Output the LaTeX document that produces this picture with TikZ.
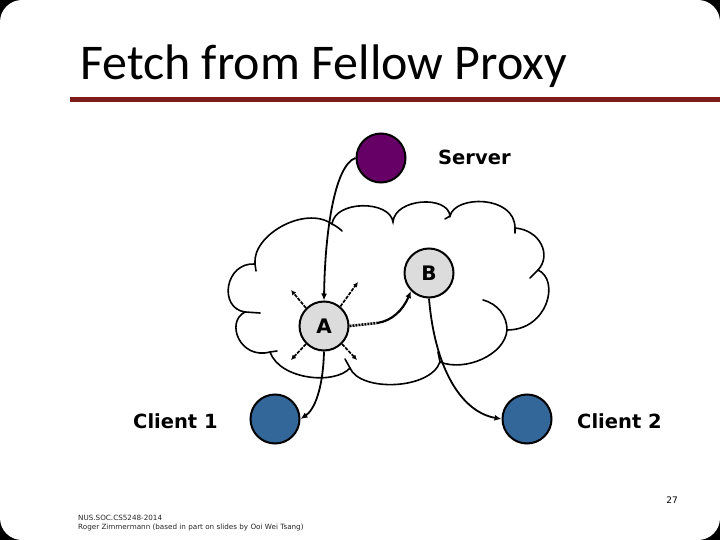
\documentclass[tikz,border=0pt]{standalone}
\usepackage{fontspec}
\setmainfont{DejaVu Sans}
\newfontfamily\titlefont{Carlito}
\usetikzlibrary{arrows.meta}
\definecolor{srvpurple}{HTML}{660066}
\definecolor{cliblue}{HTML}{336699}
\definecolor{nodegray}{HTML}{DCDCDC}
\definecolor{barred}{HTML}{7E1C1C}
\tikzset{
  peer/.style={circle, draw=black, line width=2pt, minimum size=49pt, inner sep=0pt, font=\bfseries\fontsize{20}{22}\selectfont},
  lbl/.style={font=\bfseries\fontsize{19.5}{22}\selectfont, inner sep=0pt},
  conn/.style={line width=1.8pt, -{Latex[length=7pt,width=6pt]}},
  ray/.style={line width=1.7pt, dash pattern=on 3.5pt off 1.2pt, -{Latex[length=5pt,width=5pt]}},
  cloudline/.style={line width=1.6pt, line cap=round},
  foot/.style={font=\fontsize{7.2}{8}\selectfont, text=black!85, inner sep=0pt, anchor=base west}
}
\begin{document}
\begin{tikzpicture}[x=1pt,y=-1pt]
\useasboundingbox (0,0) rectangle (720,540);
\fill[black] (0,0) rectangle (720,540);
\fill[white, rounded corners=22pt] (0,0) rectangle (720,540);
% title
\node[anchor=base west, inner sep=0pt, font=\titlefont\fontsize{50}{54}\selectfont] (title) at (80,80) {Fetch from Fellow Proxy};
\fill[barred] (70,97) rectangle (720,102);
% cloud
\draw[cloudline]
  (255,264) .. controls (252,235) and (305,205) .. (332,224)
  .. controls (335,200) and (390,200) .. (393,222)
  .. controls (395,198) and (448,195) .. (450,216)
  .. controls (455,195) and (515,195) .. (515,228)
  .. controls (540,230) and (552,255) .. (538,270)
  .. controls (560,280) and (548,330) .. (507,330)
  .. controls (505,355) and (465,372) .. (440,362)
  .. controls (430,390) and (360,392) .. (350,368)
  .. controls (335,385) and (280,380) .. (270,352)
  .. controls (240,360) and (225,322) .. (245,312)
  .. controls (218,308) and (225,262) .. (255,264);
% cloud inner stubs
\draw[cloudline] (255,264) -- (256,271);
\draw[cloudline] (332,224) .. controls (336,226) and (339,228) .. (342,231);
\draw[cloudline] (450,216) -- (445,219);
\draw[cloudline] (515,228) -- (515,233);
\draw[cloudline] (538,270) -- (530,278);
\draw[cloudline] (483,300) .. controls (498,304) and (507,316) .. (507,330);
\draw[cloudline] (440,362) -- (438,352);
\draw[cloudline] (350,368) -- (345,359);
\draw[cloudline] (270,352) -- (277,351);
\draw[cloudline] (245,312) -- (260,313);
% nodes
\node[peer, fill=srvpurple] (server) at (381,158) {};
\node[lbl, anchor=west] (serverlbl) at (438,157) {Server};
\node[peer, fill=nodegray] (B) at (429,273) {B};
\node[peer, fill=nodegray] (A) at (324,326) {A};
\node[peer, fill=cliblue] (c1) at (275,419) {};
\node[peer, fill=cliblue] (c2) at (527,419) {};
\node[lbl, anchor=west] (c1lbl) at (133,421) {Client 1};
\node[lbl, anchor=west] (c2lbl) at (577,421) {Client 2};
% connectors
\draw[conn] (server.west) .. controls (335,165) and (325,230) .. (A.north);
\draw[conn] (A.south) .. controls (323,390) and (314,410) .. (c1.east);
\draw[conn] (B.south) .. controls (435,370) and (462,412) .. (c2.west);
\coordinate (ab) at (377,323);
\draw[line width=2.6pt, dash pattern=on 2pt off 1pt] (A.east) -- (ab);
\draw[conn, line width=2.2pt] (ab) .. controls (392,321) and (403,310) .. (B.225);
% rays from A
\coordinate (r1) at (291,290);
\coordinate (r2) at (358,282);
\coordinate (r3) at (291,360);
\coordinate (r4) at (357,360);
\draw[ray] (A.135) -- (r1);
\draw[ray] (A.50) -- (r2);
\draw[ray] (A.225) -- (r3);
\draw[ray] (A.315) -- (r4);
% footer
\node[foot] (f1) at (78,520) {NUS.SOC.CS5248-2014};
\node[foot] (f2) at (78,529) {Roger Zimmermann (based in part on slides by Ooi Wei Tsang)};
\node[font=\fontsize{9}{10}\selectfont, inner sep=0pt] (pg) at (672,500) {27};
\end{tikzpicture}
\end{document}
